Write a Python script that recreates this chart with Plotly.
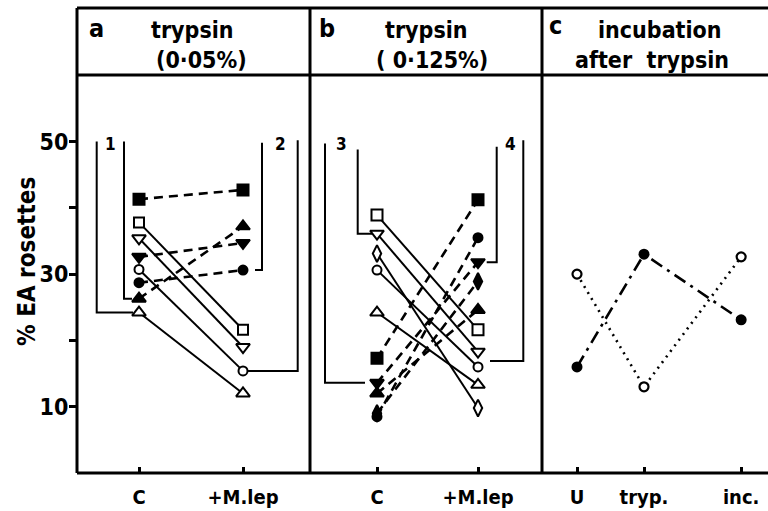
import plotly.graph_objects as go
from plotly.subplots import make_subplots

# ---- values (% EA rosettes) ----
ab_ticks = ["C", "+M.lep"]
c_ticks = ["U", "tryp.", "inc."]

# panel a: trypsin 0.05 %
a_open_square = [37.8, 21.6]
a_open_tri_down = [35.4, 19.0]
a_open_circle = [30.7, 15.4]
a_open_tri_up = [24.2, 12.0]
a_filled_square = [41.3, 42.7]
a_filled_tri_down = [32.6, 34.7]
a_filled_tri_up = [26.3, 37.2]
a_filled_circle = [28.7, 30.6]

# panel b: trypsin 0.125 %
b_open_square = [38.9, 21.6]
b_open_tri_down = [36.1, 18.3]
b_open_diamond = [33.1, 9.8]
b_open_circle = [30.6, 16.0]
b_open_tri_up = [24.2, 13.3]
b_filled_square = [17.3, 41.2]
b_filled_circle = [8.5, 35.5]
b_filled_tri_down = [13.6, 31.8]
b_filled_tri_up = [12.0, 24.6]
b_filled_diamond = [9.0, 28.9]

# panel c: incubation after trypsin
c_filled_circle = [16.0, 33.0, 23.1]
c_open_circle = [30.0, 13.0, 32.6]

# ---- styling ----
FONT = "DejaVu Sans Condensed, DejaVu Sans, sans-serif"
INK = "black"
W, H = 768, 511
L, T, B = 77, 75, 38
PW, PH = W - L, H - T - B
Y_MAX = PH / 6.63          # 10 units of y = 66.3 px
DOM_A = [0, (310 - L) / PW]
DOM_B = [(310 - L) / PW, (542 - L) / PW]
DOM_C = [(542 - L) / PW, 1]
AB_POS = [0, 1]
C_POS = [0, 1, 2.45]


def py(px):
    """pixel row -> paper y"""
    return (H - B - px) / PH


def px_(x):
    """pixel column -> paper x"""
    return (x - L) / PW


fig = make_subplots(rows=1, cols=3, shared_yaxes=True, horizontal_spacing=0)

SOLID = dict(color=INK, width=2)
DASHED = dict(color=INK, width=2.6, dash="9px,6px")


def pair(vals, symbol, filled, col, size=11, xs=AB_POS):
    fig.add_trace(
        go.Scatter(
            x=xs, y=vals, mode="lines+markers",
            line=DASHED if filled else SOLID,
            marker=dict(symbol=symbol, size=size,
                        color=INK if filled else "white",
                        line=dict(color=INK, width=2)),
            showlegend=False, hoverinfo="skip", cliponaxis=False),
        row=1, col=col)


# panel a
pair(a_open_square, "square", False, 1, 10)
pair(a_open_tri_down, "triangle-down", False, 1, 12)
pair(a_open_circle, "circle", False, 1, 9)
pair(a_open_tri_up, "triangle-up", False, 1, 12)
pair(a_filled_square, "square", True, 1)
pair(a_filled_tri_down, "triangle-down", True, 1, 12)
pair(a_filled_tri_up, "triangle-up", True, 1, 12)
pair(a_filled_circle, "circle", True, 1, 9)

# panel b
pair(b_open_square, "square", False, 2)
pair(b_open_tri_down, "triangle-down", False, 2, 12)
pair(b_open_diamond, "diamond-tall", False, 2, 12)
pair(b_open_circle, "circle", False, 2, 9)
pair(b_open_tri_up, "triangle-up", False, 2, 12)
pair(b_filled_square, "square", True, 2)
pair(b_filled_circle, "circle", True, 2, 9)
pair(b_filled_tri_down, "triangle-down", True, 2, 12)
pair(b_filled_tri_up, "triangle-up", True, 2, 12)
pair(b_filled_diamond, "diamond-tall", True, 2, 12)

# panel c
fig.add_trace(go.Scatter(
    x=C_POS, y=c_filled_circle, mode="lines+markers",
    line=dict(color=INK, width=2.6, dash="13px,6px,3px,6px"),
    marker=dict(symbol="circle", size=11, color=INK),
    showlegend=False, hoverinfo="skip", cliponaxis=False), row=1, col=3)
fig.add_trace(go.Scatter(
    x=C_POS, y=c_open_circle, mode="lines+markers",
    line=dict(color=INK, width=2.6, dash="2px,5px"),
    marker=dict(symbol="circle", size=9, color="white", line=dict(color=INK, width=2.2)),
    showlegend=False, hoverinfo="skip", cliponaxis=False), row=1, col=3)

# axes
tickfont = dict(family=FONT, size=20, color=INK, weight="bold")
x_common = dict(showline=False, showgrid=False, zeroline=False, ticks="inside",
                ticklen=6, tickwidth=3, tickcolor=INK, tickfont=tickfont,
                ticklabelstandoff=10)
fig.update_xaxes(range=[(L - 139) / 104, (310 - 139) / 104], tickvals=AB_POS,
                 ticktext=ab_ticks, row=1, col=1, **x_common)
fig.update_xaxes(range=[(310 - 377) / 101, (542 - 377) / 101], tickvals=AB_POS,
                 ticktext=ab_ticks, row=1, col=2, **x_common)
fig.update_xaxes(range=[(542 - 577) / 67, (W - 577) / 67], tickvals=C_POS,
                 ticktext=c_ticks, row=1, col=3, **x_common)
fig.layout.xaxis.domain = DOM_A
fig.layout.xaxis2.domain = DOM_B
fig.layout.xaxis3.domain = DOM_C

fig.update_yaxes(range=[0, Y_MAX], tickvals=[10, 30, 50], showgrid=False,
                 zeroline=False, showline=False, ticks="outside", ticklen=7,
                 tickwidth=3, tickcolor=INK, ticklabelstandoff=-4,
                 tickfont=dict(family=FONT, size=23, color=INK, weight="bold"),
                 minor=dict(tickvals=[20, 40], ticks="outside", ticklen=7,
                            tickwidth=3, tickcolor=INK),
                 row=1, col=1)

shapes = []
# frame: axis lines, panel dividers, title box
LW = 3
top = py(8)
for xp in [0, DOM_A[1], DOM_B[1]]:
    shapes.append(dict(type="line", xref="paper", yref="paper", x0=xp, x1=xp,
                       y0=0, y1=top, line=dict(color=INK, width=LW)))
for yp in [0, 1, top]:
    shapes.append(dict(type="line", xref="paper", yref="paper", x0=0, x1=1,
                       y0=yp, y1=yp, line=dict(color=INK, width=LW)))

# group brackets: (axis, vertical x, top, bottom, end x)
brackets = [
    ("x", (96.7 - 139) / 104, 50.0, a_open_tri_up[0], (133 - 139) / 104),
    ("x", (124 - 139) / 104, 50.0, a_filled_tri_up[0], (132 - 139) / 104),
    ("x", (262 - 139) / 104, 49.8, a_filled_circle[1], (255 - 139) / 104),
    ("x", (297.7 - 139) / 104, 50.2, a_open_circle[1], (248 - 139) / 104),
    ("x2", (325 - 377) / 101, 49.7, b_filled_tri_down[0], (365 - 377) / 101),
    ("x2", (357.7 - 377) / 101, 48.8, b_open_tri_down[0], (372 - 377) / 101),
    ("x2", (496.7 - 377) / 101, 49.2, b_filled_tri_down[1], (486.7 - 377) / 101),
    ("x2", (523.3 - 377) / 101, 50.2, 16.9, (490 - 377) / 101),
]
for xr, xv, yt, yb, xe in brackets:
    shapes.append(dict(type="path", xref=xr, yref="y",
                       path=f"M {xv},{yt} L {xv},{yb} L {xe},{yb}",
                       line=dict(color=INK, width=2)))
fig.update_layout(shapes=shapes)

ann = []
bracket_labels = [("x", (110 - 139) / 104, "1"), ("x", (280 - 139) / 104, "2"),
                  ("x2", (341.7 - 377) / 101, "3"), ("x2", (510 - 377) / 101, "4")]
for xr, xv, t in bracket_labels:
    ann.append(dict(xref=xr, yref="y", x=xv, y=49.6, text=t, showarrow=False,
                    font=dict(family=FONT, size=17, color=INK, weight="bold")))

title_font = dict(family=FONT, size=23, color=INK, weight="bold")
letter_font = dict(family=FONT, size=25, color=INK, weight="bold")
titles = [
    (96, 28, "a", letter_font), (192, 30, "trypsin", title_font),
    (201, 60, "(0·05%)", title_font),
    (327, 28, "b", letter_font), (426, 30, "trypsin", title_font),
    (432, 60, "( 0·125%)", title_font),
    (555, 26, "c", letter_font), (660, 30, "incubation", title_font),
    (652, 60, "after  trypsin", title_font),
]
for x, y, t, f in titles:
    ann.append(dict(xref="paper", yref="paper", x=px_(x), y=py(y), text=t,
                    showarrow=False, xanchor="center", yanchor="middle", font=f))

ann.append(dict(xref="paper", yref="paper", x=px_(27), y=py(262),
                text="% EA rosettes", textangle=-90, showarrow=False,
                xanchor="center", yanchor="middle",
                font=dict(family=FONT, size=24, color=INK, weight="bold")))
fig.update_layout(annotations=ann)

fig.update_layout(width=W, height=H, margin=dict(l=L, r=0, t=T, b=B),
                  paper_bgcolor="white", plot_bgcolor="white", showlegend=False)

fig.write_html("out.html")
